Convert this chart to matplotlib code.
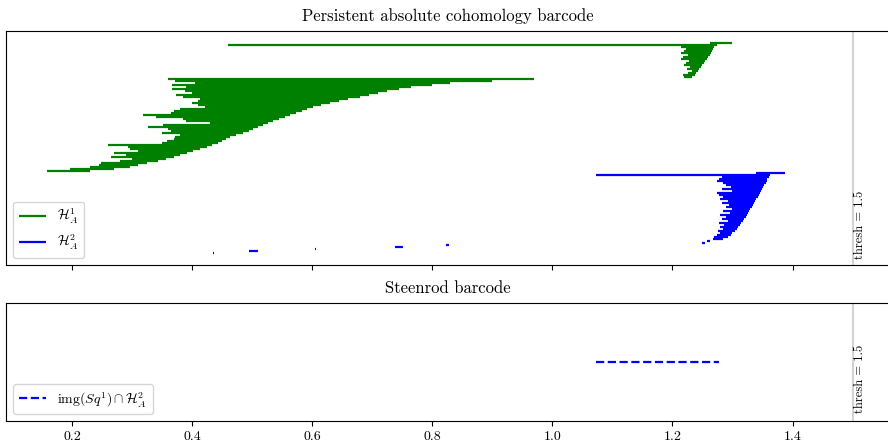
import matplotlib
matplotlib.use("Agg")
import matplotlib.pyplot as plt
import numpy as np

plt.rcParams['font.family'] = ['cmr10', 'DejaVu Serif']
plt.rcParams['mathtext.fontset'] = 'cm'
plt.rcParams['axes.formatter.use_mathtext'] = True
plt.rcParams['axes.unicode_minus'] = False

# H^1 bars (birth, death), sorted by death, top row first
h1_birth = [1.262, 0.460, 1.215, 1.222, 1.219, 1.214, 1.226, 1.218, 1.215, 1.228,
            1.222, 1.219, 1.229, 1.224, 1.232, 1.226, 1.218, 1.220,
            0.36, 0.372, 0.405, 0.367, 0.39, 0.367, 0.388, 0.40, 0.373, 0.385,
            0.413, 0.41, 0.40, 0.41, 0.422, 0.38, 0.37, 0.365, 0.318, 0.34,
            0.385, 0.39, 0.43, 0.352, 0.327, 0.36, 0.365, 0.35, 0.38, 0.372,
            0.37, 0.358, 0.35, 0.26, 0.293, 0.297, 0.31, 0.27, 0.29, 0.265,
            0.30, 0.28, 0.248, 0.245, 0.23, 0.197, 0.158]
h1_death = [1.300, 1.275, 1.270, 1.268, 1.266, 1.264, 1.262, 1.259, 1.257, 1.255,
            1.253, 1.250, 1.248, 1.245, 1.243, 1.240, 1.237, 1.233,
            0.97, 0.90, 0.83, 0.80, 0.765, 0.745, 0.725, 0.71, 0.695, 0.68,
            0.66, 0.645, 0.63, 0.615, 0.602, 0.592, 0.583, 0.573, 0.563, 0.555,
            0.545, 0.535, 0.527, 0.518, 0.51, 0.502, 0.494, 0.485, 0.473, 0.463,
            0.456, 0.45, 0.443, 0.433, 0.425, 0.413, 0.402, 0.392, 0.38, 0.37,
            0.357, 0.343, 0.325, 0.31, 0.297, 0.27, 0.23]

# H^2 bars
h2_birth = [1.340, 1.072, 1.283, 1.278, 1.275, 1.285, 1.290, 1.298, 1.282, 1.300,
            1.275, 1.278, 1.285, 1.280, 1.292, 1.283, 1.295, 1.290, 1.300, 1.285,
            1.296, 1.280, 1.290, 1.283, 1.292, 1.278, 1.286, 1.280, 1.284, 1.276,
            1.280, 1.274, 1.270, 1.268, 1.258, 1.250,
            0.823, 0.738, 0.604, 0.495, 0.434]
h2_death = [1.388, 1.362, 1.360, 1.358, 1.357, 1.355, 1.353, 1.351, 1.349, 1.348,
            1.346, 1.344, 1.342, 1.340, 1.338, 1.336, 1.334, 1.332, 1.330, 1.328,
            1.326, 1.324, 1.322, 1.320, 1.318, 1.315, 1.312, 1.310, 1.307, 1.304,
            1.300, 1.297, 1.292, 1.285, 1.263, 1.255,
            0.828, 0.752, 0.606, 0.510, 0.437]

# Steenrod barcode
sq_birth = [1.072]
sq_death = [1.278]

thresh = 1.5
xticks = [0.2, 0.4, 0.6, 0.8, 1.0, 1.2, 1.4]

fig = plt.figure(figsize=(8.88, 4.45), dpi=100)
ax1 = fig.add_axes([0.0068, 0.4045, 0.9952, 0.5258])
ax2 = fig.add_axes([0.0068, 0.0539, 0.9952, 0.2652], sharex=ax1)

y1 = np.arange(len(h1_birth))
y2 = np.arange(len(h2_birth)) + len(h1_birth)
ax1.hlines(y1, h1_birth, h1_death, colors='green', lw=1.6, label=r'$\mathcal{H}^1_A$')
ax1.hlines(y2, h2_birth, h2_death, colors='blue', lw=1.6, label=r'$\mathcal{H}^2_A$')
ax1.axvline(thresh, color='lightgray', lw=1.5)
ax1.text(thresh + 0.002, 108, 'thresh = 1.5', rotation=90, fontsize=9,
         ha='left', va='bottom')
ax1.set_ylim(111, -6)
ax1.set_yticks([])
ax1.set_title('Persistent absolute cohomology barcode', fontsize=12, pad=7)
ax1.legend(loc='lower left', fontsize=10, handlelength=2.0)
ax1.tick_params(axis='x', labelbottom=False)

ys = np.arange(len(sq_birth))
ax2.hlines(ys, sq_birth, sq_death, colors='blue', lw=1.6, linestyles='--',
           label=r'$\mathrm{img}(Sq^1) \cap \mathcal{H}^2_A$')
ax2.axvline(thresh, color='lightgray', lw=1.5)
ax2.text(thresh + 0.002, -0.9, 'thresh = 1.5', rotation=90, fontsize=9,
         ha='left', va='bottom')
ax2.set_ylim(-1.05, 1.05)
ax2.set_yticks([])
ax2.set_title('Steenrod barcode', fontsize=12, pad=7)
ax2.legend(loc='lower left', fontsize=10, handlelength=2.0)

ax2.set_xlim(0.09, 1.562)
ax2.set_xticks(xticks)
ax2.set_xticklabels([str(t) for t in xticks])

fig.savefig('out.png', dpi=100)
